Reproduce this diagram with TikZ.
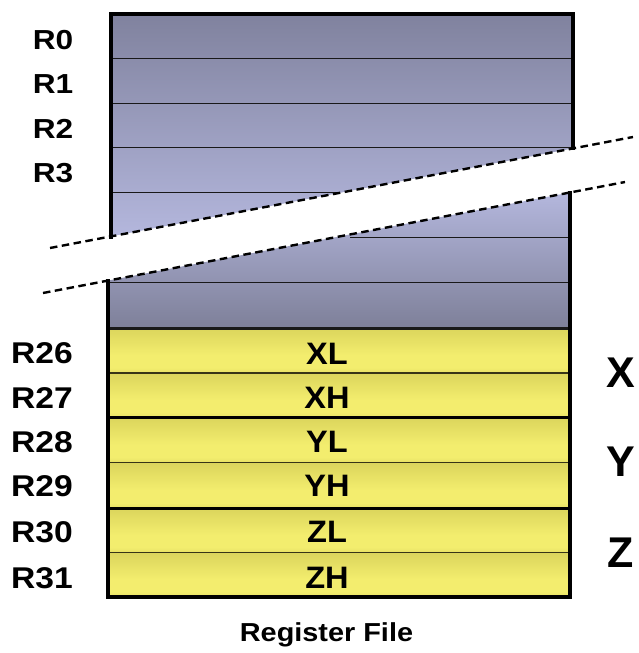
\documentclass[tikz,border=0pt]{standalone}
\usepackage{fontspec}
\setmainfont{Liberation Sans}
\usepackage{graphicx}

\definecolor{gTop}{HTML}{80829E}
\definecolor{gMid}{HTML}{B4B7DD}
\definecolor{gBot}{HTML}{7E8099}
\definecolor{yTop}{HTML}{DBD55C}
\definecolor{yMid}{HTML}{F3ED6E}
\definecolor{yBot}{HTML}{E6E064}

% vertical shading of one yellow register row (dark top, light lower part)
\pgfdeclareverticalshading{yelrow}{100bp}{color(0bp)=(yBot); color(25bp)=(yBot);
  color(31bp)=(yMid); color(45bp)=(yMid); color(75bp)=(yTop); color(100bp)=(yTop)}

\newcommand\hstretch[2]{\scalebox{#1}[1]{#2}}

\tikzset{
  border/.style={line width=4pt, line cap=rect, line join=miter},
  rowline/.style={line width=1.4pt, black!90},
  yrowline/.style={line width=1.4pt, black!75!yTop},
  pairline/.style={line width=3.4pt, black},
  cutline/.style={line width=2.4pt, dash pattern=on 7.5pt off 4.5pt},
  toplab/.style={inner sep=0pt, anchor=base west, font=\fontsize{27.5}{27.5}\selectfont\bfseries},
  botlab/.style={inner sep=0pt, anchor=base west, font=\fontsize{30}{30}\selectfont\bfseries},
  cellname/.style={inner sep=0pt, anchor=base, font=\fontsize{31}{31}\selectfont\bfseries},
  pairname/.style={inner sep=0pt, anchor=base, font=\fontsize{43}{43}\selectfont\bfseries},
  caption/.style={inner sep=0pt, anchor=base, font=\fontsize{26}{26}\selectfont\bfseries}
}

\begin{document}
\begin{tikzpicture}[x=1pt,y=-1pt]
\useasboundingbox (0,0) rectangle (639,653);

% ends of the two cut lines
\coordinate (cutAa) at (50,248);
\coordinate (cutAb) at (633,137);
\coordinate (cutBa) at (43,293);
\coordinate (cutBb) at (625,182);

% upper piece of the register file (R0 ...)
\shade[top color=gTop, bottom color=gMid]
  (110.5,14) -- (573,14) -- (573,148.4) -- (110.5,236.5) -- cycle;
% lower piece (... R25)
\shade[top color=gMid, bottom color=gBot]
  (108,280.6) -- (570,192.5) -- (570,328) -- (108,328) -- cycle;

% yellow pointer registers R26..R31
\foreach \ya/\yb in {328/373, 373/417.7, 417.7/462.7, 462.7/508.3, 508.3/552.7, 552.7/597}
  \shade[shading=yelrow] (108,\ya) rectangle (570,\yb);

% row separators in the grey part
\foreach \y in {58.3, 103.3, 147.7}
  \draw[rowline] (110.5,\y) -- (573,\y);
\draw[rowline] (110.5,192.7) -- (339,192.7);
\draw[rowline] (350,237.7) -- (570,237.7);
\draw[rowline] (108,282.7) -- (570,282.7);

% row separators in the yellow part
\foreach \y in {373, 462.7, 552.7}
  \draw[yrowline] (108,\y) -- (570,\y);
\draw[line width=3pt, black!90] (108,328) -- (570,328);
\foreach \y in {417.7, 508.3}
  \draw[pairline] (108,\y) -- (570,\y);

% outlines
\draw[border] (110.5,236.5) -- (110.5,14) -- (573,14) -- (573,148.4);
\draw[border] (108,280.6) -- (108,597) -- (570,597) -- (570,192.5);

% cut lines
\draw[cutline] (cutAa) -- (cutAb);
\draw[cutline] (cutBa) -- (cutBb);

% register numbers
\node[toplab] (r0) at (32.7,49.3)  {\hstretch{1.15}{R0}};
\node[toplab] (r1) at (32.7,93.8)  {\hstretch{1.15}{R1}};
\node[toplab] (r2) at (32.7,138.3) {\hstretch{1.15}{R2}};
\node[toplab] (r3) at (32.7,182.8) {\hstretch{1.15}{R3}};

\node[botlab] (r26) at (10.9,363.5) {\hstretch{1.12}{R26}};
\node[botlab] (r27) at (10.9,408.3) {\hstretch{1.12}{R27}};
\node[botlab] (r28) at (10.9,452.2) {\hstretch{1.12}{R28}};
\node[botlab] (r29) at (10.9,496.7) {\hstretch{1.12}{R29}};
\node[botlab] (r30) at (10.9,542.5) {\hstretch{1.12}{R30}};
\node[botlab] (r31) at (10.9,588.2) {\hstretch{1.12}{R31}};

% byte names
\node[cellname] (xl) at (327,364)   {\hstretch{1.05}{XL}};
\node[cellname] (xh) at (327,408.3) {\hstretch{1.05}{XH}};
\node[cellname] (yl) at (327,452.7) {\hstretch{1.05}{YL}};
\node[cellname] (yh) at (327,496.7) {\hstretch{1.05}{YH}};
\node[cellname] (zl) at (327,542.5) {\hstretch{1.05}{ZL}};
\node[cellname] (zh) at (327,588.2) {\hstretch{1.05}{ZH}};

% pointer names
\node[pairname] (px) at (621,387.3) {X};
\node[pairname] (py) at (621,476.7) {Y};
\node[pairname] (pz) at (621,567.3) {Z};

\node[caption] (cap) at (326.5,641.7) {\hstretch{1.11}{Register File}};
\end{tikzpicture}
\end{document}
